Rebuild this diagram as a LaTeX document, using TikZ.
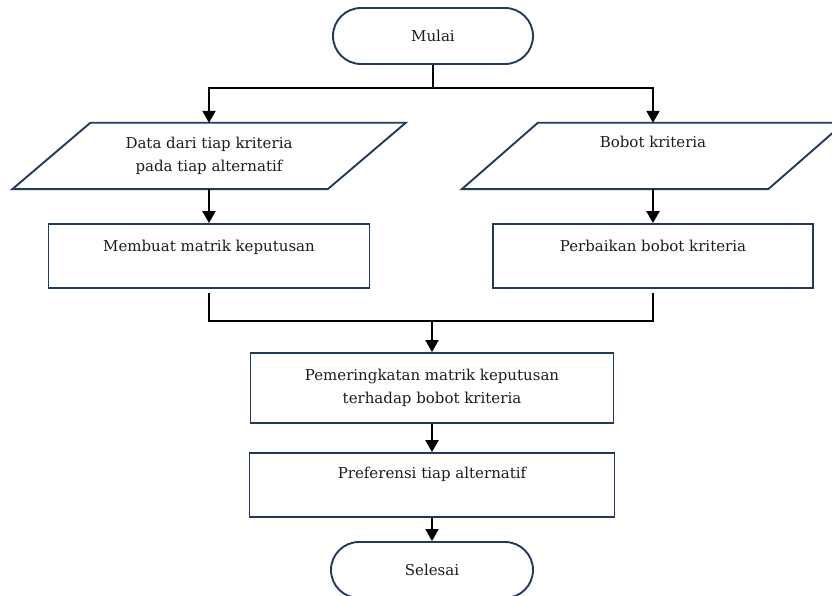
\documentclass[tikz,border=0pt]{standalone}
\usepackage{fontspec}
\setmainfont{DejaVu Serif}
\usetikzlibrary{arrows.meta,calc,shapes.misc}
\definecolor{shapeline}{HTML}{223B5C}
\definecolor{txt}{HTML}{1C1C1C}
\begin{document}
\begin{tikzpicture}[x=1pt,y=-1pt,
  every node/.style={font=\fontsize{15}{22.5}\selectfont, text=txt, inner sep=0pt, align=center},
  term/.style={draw=shapeline, line width=1.9pt, rounded rectangle, minimum width=#1, minimum height=56},
  box/.style={draw=shapeline, line width=1.9pt, rectangle},
  ionode/.style={rectangle},
  para/.style={draw=shapeline, line width=1.9pt, line join=miter},
  conn/.style={draw=black, line width=2.3pt},
  arr/.style={conn, -{Triangle[width=13pt,length=12pt]}}
]
\useasboundingbox (0,0) rectangle (832,596);

% terminators
\node[term=200] (start) at (433,36) {Mulai};
\node[term=202] (stop) at (432,570) {Selesai};

% input / output parallelograms (node = body, outline drawn from its corners)
\node[ionode, minimum width=315, minimum height=66] (d1) at (209,156) {Data dari tiap kriteria\\pada tiap alternatif};
\draw[para] ($(d1.north west)+(39,0)$) -- ($(d1.north east)+(39,0)$) -- ($(d1.south east)+(-39,0)$) -- ($(d1.south west)+(-39,0)$) -- cycle;

\node[ionode, minimum width=306, text height=25, text depth=41] (d2) at (653,156) {Bobot kriteria};
\draw[para] ($(d2.north west)+(38,0)$) -- ($(d2.north east)+(38,0)$) -- ($(d2.south east)+(-38,0)$) -- ($(d2.south west)+(-38,0)$) -- cycle;

% process boxes
\node[box, minimum width=321, text height=27, text depth=37] (r1) at (209,256) {Membuat matrik keputusan};
\node[box, minimum width=320, text height=27, text depth=37] (r2) at (653,256) {Perbaikan bobot kriteria};
\node[box, minimum width=363, minimum height=70] (r3) at (432,388) {Pemeringkatan matrik keputusan\\terhadap bobot kriteria};
\node[box, minimum width=365, text height=25, text depth=39] (r4) at (432,485) {Preferensi tiap alternatif};

% connectors
\coordinate (b1) at (433,88);
\coordinate (b2) at (432,321);
\draw[conn] (start.south) -- (b1);
\draw[arr] (b1) -| (d1.north);
\draw[arr] (b1) -| (d2.north);
\draw[arr] (d1.south) -- (r1.north);
\draw[arr] (d2.south) -- (r2.north);
\draw[conn, shorten <=4pt] (r1.south) |- (b2);
\draw[conn, shorten <=4pt] (r2.south) |- (b2);
\draw[arr] (b2) -- (r3.north);
\draw[arr] (r3.south) -- (r4.north);
\draw[arr] (r4.south) -- (stop.north);
\end{tikzpicture}
\end{document}
